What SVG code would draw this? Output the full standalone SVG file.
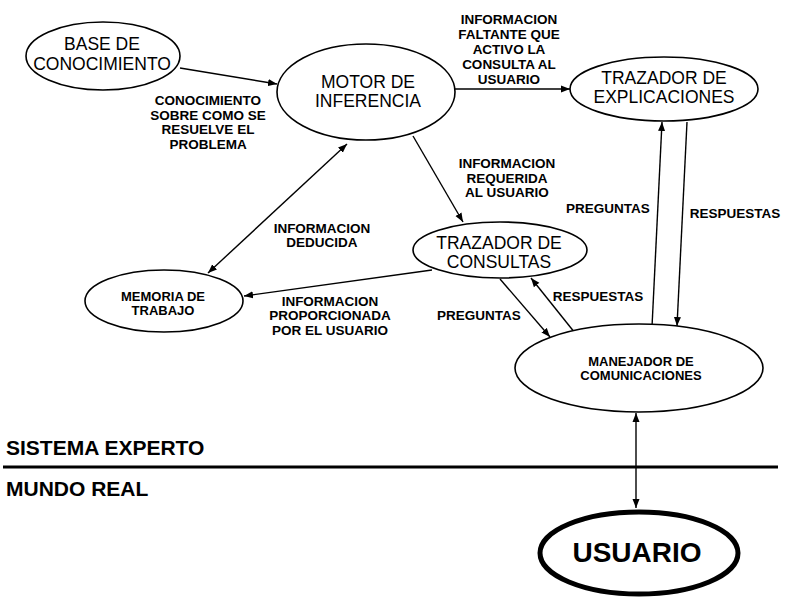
<svg xmlns="http://www.w3.org/2000/svg" width="786" height="602" viewBox="0 0 786 602">
<style>
.n{fill:#fff;stroke:#000;stroke-width:1.6}
.t{font-family:"Liberation Sans",Arial,sans-serif;fill:#000;text-anchor:middle}
.big{font-size:17.5px}
.sm{font-size:13.5px;font-weight:bold}
.ns{font-size:13px;font-weight:bold}
.c line{stroke:#000;stroke-width:1.4}
.hd{font-family:"Liberation Sans",Arial,sans-serif;font-size:21px;font-weight:bold;fill:#000}
</style>
<defs>
<marker id="a" markerUnits="userSpaceOnUse" markerWidth="10" markerHeight="8" refX="9" refY="4" orient="auto-start-reverse">
<path d="M0,0.5 L9,4 L0,7.5 z" fill="#000"/>
</marker>
</defs>
<rect width="786" height="602" fill="#fff"/>

<g id="connectors" class="c">
<line x1="180" y1="68" x2="277" y2="84" marker-end="url(#a)"/>
<line x1="455" y1="89" x2="570" y2="89" marker-end="url(#a)"/>
<line x1="413" y1="136" x2="463" y2="222" marker-end="url(#a)"/>
<line x1="347" y1="144" x2="208" y2="273" marker-start="url(#a)" marker-end="url(#a)"/>
<line x1="432" y1="270" x2="244" y2="296" marker-end="url(#a)"/>
<line x1="500" y1="279" x2="550" y2="337" marker-end="url(#a)"/>
<line x1="575" y1="333" x2="531" y2="278" marker-end="url(#a)"/>
<line x1="652" y1="327" x2="662" y2="122" marker-end="url(#a)"/>
<line x1="687" y1="122" x2="677" y2="326" marker-end="url(#a)"/>
<line x1="636" y1="413" x2="636" y2="508" marker-start="url(#a)" marker-end="url(#a)"/>
</g>

<g id="labels">
<text class="t sm"><tspan x="208" y="105">CONOCIMIENTO</tspan><tspan x="208" y="120">SOBRE COMO SE</tspan><tspan x="208" y="134">RESUELVE EL</tspan><tspan x="208" y="149">PROBLEMA</tspan></text>
<text class="t sm"><tspan x="509" y="24">INFORMACION</tspan><tspan x="509" y="39">FALTANTE QUE</tspan><tspan x="509" y="54">ACTIVO LA</tspan><tspan x="509" y="69">CONSULTA AL</tspan><tspan x="509" y="84">USUARIO</tspan></text>
<text class="t sm"><tspan x="507" y="168">INFORMACION</tspan><tspan x="507" y="183">REQUERIDA</tspan><tspan x="507" y="197">AL USUARIO</tspan></text>
<text class="t sm"><tspan x="322" y="233">INFORMACION</tspan><tspan x="322" y="247">DEDUCIDA</tspan></text>
<text class="t sm"><tspan x="330" y="306">INFORMACION</tspan><tspan x="330" y="320">PROPORCIONADA</tspan><tspan x="330" y="335">POR EL USUARIO</tspan></text>
<text class="t sm" x="608" y="213">PREGUNTAS</text>
<text class="t sm" x="735" y="218">RESPUESTAS</text>
<text class="t sm" x="479" y="320">PREGUNTAS</text>
<text class="t sm" x="598" y="301">RESPUESTAS</text>
</g>

<g id="base">
<ellipse class="n" cx="103" cy="56" rx="77" ry="34"/>
<text class="t big"><tspan x="102" y="49.5">BASE DE</tspan><tspan x="102" y="69.5">CONOCIMIENTO</tspan></text>
</g>
<g id="motor">
<ellipse class="n" cx="366" cy="92" rx="89" ry="48"/>
<text class="t big"><tspan x="368" y="88">MOTOR DE</tspan><tspan x="368" y="107">INFERENCIA</tspan></text>
</g>
<g id="explicaciones">
<ellipse class="n" cx="664" cy="89" rx="94" ry="32"/>
<text class="t big"><tspan x="664" y="84">TRAZADOR DE</tspan><tspan x="664" y="103">EXPLICACIONES</tspan></text>
</g>
<g id="consultas">
<ellipse class="n" cx="500" cy="250" rx="87" ry="28"/>
<text class="t big"><tspan x="499" y="249">TRAZADOR DE</tspan><tspan x="499" y="268">CONSULTAS</tspan></text>
</g>
<g id="memoria">
<ellipse class="n" cx="164" cy="301" rx="79" ry="31"/>
<text class="t ns"><tspan x="163" y="301">MEMORIA DE</tspan><tspan x="163" y="315">TRABAJO</tspan></text>
</g>
<g id="manejador">
<ellipse class="n" cx="639" cy="368" rx="124" ry="44"/>
<text class="t ns"><tspan x="641" y="366">MANEJADOR DE</tspan><tspan x="641" y="380">COMUNICACIONES</tspan></text>
</g>
<g id="usuario">
<ellipse cx="639" cy="553" rx="99" ry="41" fill="#fff" stroke="#000" stroke-width="5"/>
<text class="t" x="637" y="562" font-size="28" font-weight="bold">USUARIO</text>
</g>

<g id="frontier">
<line x1="3" y1="467" x2="778" y2="467" stroke="#000" stroke-width="3"/>
<text class="hd" x="6" y="455">SISTEMA EXPERTO</text>
<text class="hd" x="6" y="496">MUNDO REAL</text>
</g>
</svg>
